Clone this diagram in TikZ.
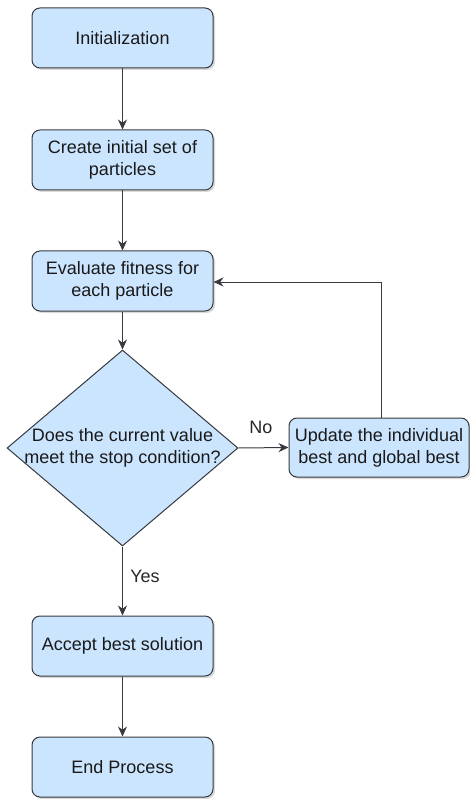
\documentclass[tikz,border=0pt]{standalone}
\usepackage{fontspec}
\setmainfont{Liberation Sans}
\usetikzlibrary{arrows.meta,shapes.geometric,shadows}
\definecolor{boxfill}{HTML}{CCE5FF}
\definecolor{boxline}{HTML}{36393D}
\tikzset{
  x=1pt,y=-1pt,
  procbox/.style={draw=boxline,line width=1pt,fill=boxfill,rounded corners=8pt,
    minimum width=181pt,minimum height=60pt,align=center,inner sep=2pt,
    font=\fontsize{18}{21.7}\selectfont,text=black!90,
    drop shadow={shadow xshift=2pt,shadow yshift=-2pt,opacity=0.25,fill=black!60}},
  decision/.style={draw=boxline,line width=1pt,fill=boxfill,diamond,
    minimum width=231pt,minimum height=196pt,inner sep=0pt,align=center},
  flow/.style={draw=boxline,line width=1pt,-{Stealth[length=10pt,width=9pt]}},
  lbl/.style={font=\fontsize{18}{21}\selectfont,text=black!85}
}
\begin{document}
\begin{tikzpicture}
\useasboundingbox (0,0) rectangle (470,799);
\node[procbox] (init) at (122.5,38) {Initialization};
\node[procbox] (create) at (122.5,160) {Create initial set of\\particles};
\node[procbox] (eval) at (122.5,281) {Evaluate fitness for\\each particle};
\node[decision] (dec) at (122.5,448) {};
\node[font=\fontsize{18}{21.7}\selectfont,text=black!90,align=center] (dectext) at (122.5,448) {Does the current value\\meet the stop condition?};
\node[procbox,minimum width=180pt,minimum height=59pt] (upd) at (379,447.5) {Update the individual\\best and global best};
\node[procbox] (accept) at (122.5,646) {Accept best solution};
\node[procbox] (endp) at (122.5,767) {End Process};
\coordinate (corner) at (381,282);
\draw[flow] (init) -- (create);
\draw[flow] (create) -- (eval);
\draw[flow] (eval) -- (dec.north);
\draw[flow] (dec.east) -- node[lbl,above=10pt,pos=0.45] (no) {No} (upd.west);
\draw[flow] (upd.north -| corner) -- (corner) -- (eval.east |- corner);
\draw[flow] (dec.south) -- node[lbl,right=4pt,pos=0.43] (yes) {Yes} (accept.north);
\draw[flow] (accept) -- (endp);
\end{tikzpicture}
\end{document}
